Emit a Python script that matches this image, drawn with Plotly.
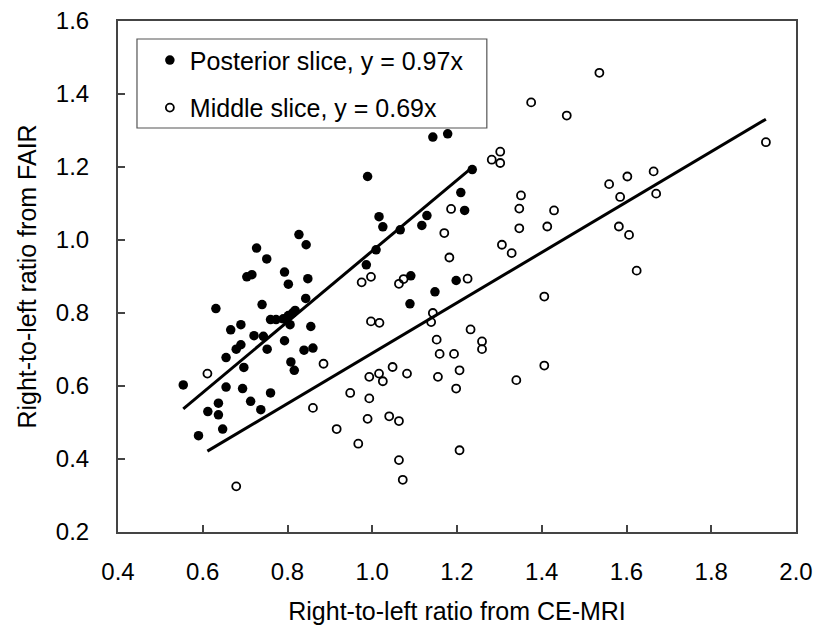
import plotly.graph_objects as go

# Posterior slice (filled markers)
post_x = [0.554, 0.590, 0.612, 0.631, 0.637, 0.637, 0.647, 0.655, 0.655, 0.666,
          0.690, 0.679, 0.690, 0.697, 0.694, 0.713, 0.721, 0.737, 0.743, 0.752,
          0.760, 0.760, 0.773, 0.790, 0.802, 0.812, 0.818, 0.806, 0.793, 0.808,
          0.816, 0.839, 0.860, 0.855, 0.843, 0.740, 0.704, 0.716, 0.727, 0.751,
          0.793, 0.802, 0.848, 0.827, 0.844, 0.986, 0.989, 1.009, 1.016, 1.025,
          1.066, 1.089, 1.091, 1.117, 1.129, 1.143, 1.178, 1.148, 1.198, 1.209,
          1.218, 1.236]
post_y = [0.603, 0.464, 0.530, 0.812, 0.553, 0.521, 0.482, 0.597, 0.678, 0.754,
          0.768, 0.701, 0.713, 0.651, 0.593, 0.558, 0.738, 0.535, 0.736, 0.701,
          0.581, 0.782, 0.782, 0.784, 0.793, 0.800, 0.807, 0.768, 0.724, 0.666,
          0.643, 0.698, 0.704, 0.763, 0.840, 0.823, 0.899, 0.905, 0.978, 0.948,
          0.912, 0.879, 0.894, 1.015, 0.987, 0.932, 1.174, 0.973, 1.064, 1.036,
          1.028, 0.825, 0.902, 1.040, 1.067, 1.282, 1.291, 0.858, 0.889, 1.130,
          1.081, 1.193]

# Middle slice (open markers)
mid_x = [0.611, 0.679, 0.860, 0.885, 0.916, 0.948, 0.967, 0.975, 0.997, 0.997,
         1.017, 0.993, 0.993, 0.989, 1.016, 1.025, 1.048, 1.040, 1.063, 1.063,
         1.072, 1.063, 1.074, 1.082, 1.139, 1.143, 1.152, 1.159, 1.155, 1.170,
         1.182, 1.186, 1.193, 1.198, 1.206, 1.206, 1.225, 1.232, 1.259, 1.259,
         1.282, 1.302, 1.302, 1.306, 1.329, 1.340, 1.347, 1.347, 1.351, 1.375,
         1.406, 1.406, 1.413, 1.429, 1.459, 1.536, 1.559, 1.582, 1.585, 1.602,
         1.606, 1.624, 1.664, 1.670, 1.929]
mid_y = [0.634, 0.325, 0.540, 0.661, 0.482, 0.581, 0.442, 0.884, 0.899, 0.777,
         0.773, 0.625, 0.566, 0.510, 0.634, 0.613, 0.652, 0.517, 0.504, 0.397,
         0.343, 0.880, 0.893, 0.634, 0.775, 0.800, 0.727, 0.688, 0.625, 1.019,
         0.952, 1.085, 0.688, 0.593, 0.643, 0.424, 0.894, 0.755, 0.722, 0.701,
         1.220, 1.242, 1.211, 0.987, 0.964, 0.616, 1.086, 1.032, 1.122, 1.377,
         0.845, 0.656, 1.037, 1.081, 1.341, 1.458, 1.153, 1.037, 1.118, 1.174,
         1.014, 0.916, 1.188, 1.127, 1.268]

post_slope = 0.97
mid_slope = 0.69

post_names = ["Posterior slice, y = 0.97x", "Middle slice, y = 0.69x"]
x_title = "Right-to-left ratio from CE-MRI"
y_title = "Right-to-left ratio from FAIR"

FONT = "Liberation Sans, Arial, sans-serif"

fig = go.Figure()

fig.add_trace(go.Scatter(
    x=post_x, y=post_y, mode="markers", name=post_names[0],
    legendgroup="a",
    marker=dict(symbol="circle", size=9.5, color="black"),
))
fig.add_trace(go.Scatter(
    x=mid_x, y=mid_y, mode="markers", name=post_names[1],
    legendgroup="b",
    marker=dict(symbol="circle-open", size=8, color="black", line=dict(width=1.8)),
))

px0, px1 = min(post_x), max(post_x)
mx0, mx1 = min(mid_x), max(mid_x)
fig.add_trace(go.Scatter(
    x=[px0, px1], y=[post_slope * px0, post_slope * px1], mode="lines",
    line=dict(color="black", width=3), showlegend=False, hoverinfo="skip",
))
fig.add_trace(go.Scatter(
    x=[mx0, mx1], y=[mid_slope * mx0, mid_slope * mx1], mode="lines",
    line=dict(color="black", width=3), showlegend=False, hoverinfo="skip",
))

axis_common = dict(
    showgrid=False, zeroline=False, showline=True, linecolor="#444", linewidth=2,
    mirror=True, ticks="inside", ticklen=7, tickwidth=1.5, tickcolor="#444",
    tickfont=dict(family=FONT, size=24, color="black"), dtick=0.2, tickformat=".1f",
    automargin=False,
)

fig.update_layout(
    width=821, height=629,
    margin=dict(l=118, r=25, t=21, b=97),
    paper_bgcolor="white", plot_bgcolor="white",
    font=dict(family=FONT, color="black"),
    xaxis=dict(range=[0.4, 2.0], title=dict(text=x_title, font=dict(size=25), standoff=19),
               ticklabelstandoff=17, **axis_common),
    yaxis=dict(range=[0.2, 1.6], title=dict(text=y_title, font=dict(size=25), standoff=12),
               ticklabelstandoff=22, **axis_common),
    legend=dict(
        x=0.047, y=0.968, xanchor="left", yanchor="top",
        bgcolor="rgba(0,0,0,0)", borderwidth=0,
        font=dict(family=FONT, size=25, color="black"),
        tracegroupgap=12, traceorder="grouped",
    ),
    shapes=[dict(
        type="rect", xref="paper", yref="paper",
        x0=0.028, x1=0.544, y0=0.7906, y1=0.9648,
        line=dict(color="#555", width=1.2), fillcolor="rgba(0,0,0,0)", layer="above",
    )],
    showlegend=True,
)

fig.write_html("out.html")
